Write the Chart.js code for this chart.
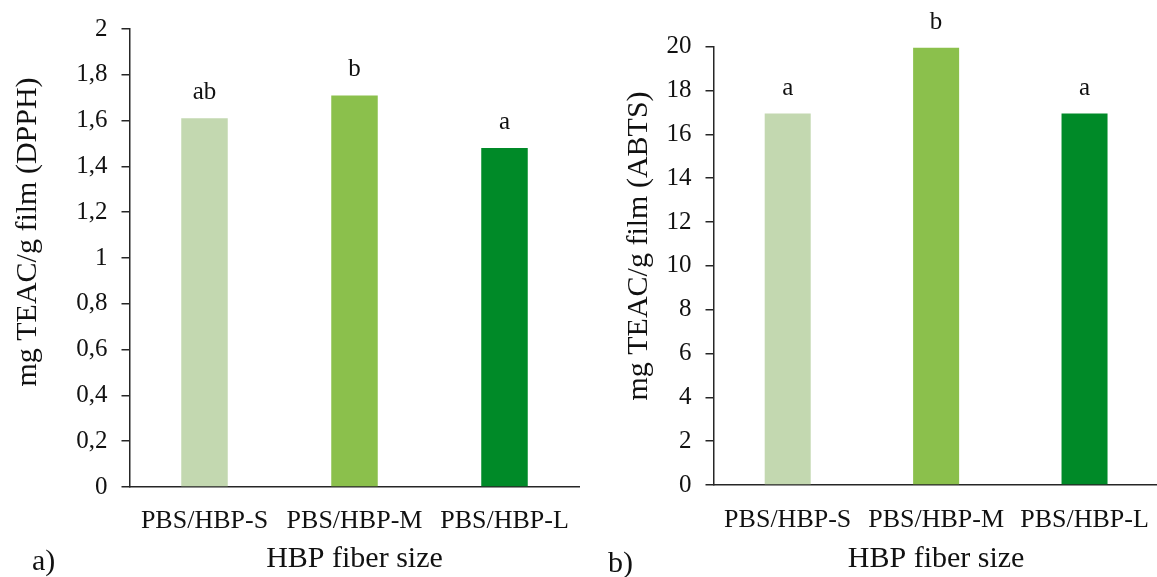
<!DOCTYPE html>
<html>
<head>
<meta charset="utf-8">
<script src="https://cdn.jsdelivr.net/npm/chart.js@4.4.1/dist/chart.umd.min.js"></script>
<style>
  html, body { margin: 0; padding: 0; background: #ffffff; overflow: hidden; width: 1157px; height: 577px; }
  #wrap { position: relative; width: 1157px; height: 577px; overflow: hidden; }
  canvas { position: absolute; top: 0; }
  #cA { left: 0px; }
  #cB { left: 580px; }
</style>
</head>
<body>
<div id="wrap">
  <canvas id="cA" width="590" height="577"></canvas>
  <canvas id="cB" width="590" height="577"></canvas>
</div>
<script>
// ---- data ----
const categories = ['PBS/HBP-S', 'PBS/HBP-M', 'PBS/HBP-L'];
const dpphValues = [1.61, 1.71, 1.48];
const abtsValues = [16.95, 19.95, 16.95];
const dpphLetters = ['ab', 'b', 'a'];
const abtsLetters = ['a', 'b', 'a'];
const barColors = ['#C3D8B0', '#8BC04C', '#008A28'];
const dpphTitle = 'mg TEAC/g film (DPPH)';
const abtsTitle = 'mg TEAC/g film (ABTS)';
const xTitle = 'HBP fiber size';
const panelLabels = ['a)', 'b)'];

const FONT = '"Liberation Serif", "Times New Roman", serif';
const AXIS = '#262626';

const fmtComma = v => String(Number(v.toFixed(1))).replace('.', ',');

const annot = {
  id: 'annot',
  afterDatasetsDraw(chart, args, opts) {
    const ctx = chart.ctx;
    const meta = chart.getDatasetMeta(0);
    ctx.save();
    ctx.fillStyle = '#111';
    ctx.textAlign = 'center';
    ctx.textBaseline = 'middle';
    ctx.font = '25px ' + FONT;
    meta.data.forEach((el, i) => {
      ctx.fillText(opts.letters[i], el.x, el.y - opts.letterGap);
    });
    // y title
    ctx.save();
    ctx.font = '30px ' + FONT;
    ctx.translate(opts.yTitleX, opts.yTitleY);
    ctx.rotate(-Math.PI / 2);
    ctx.fillText(opts.yTitle, 0, 0);
    ctx.restore();
    // panel label
    ctx.font = '30px ' + FONT;
    ctx.textAlign = 'left';
    ctx.fillText(opts.panel, opts.panelX, opts.panelY);
    ctx.restore();
  }
};

function makeChart(id, values, letters, yMax, step, fmt, cfg) {
  return new Chart(document.getElementById(id), {
    type: 'bar',
    data: {
      labels: categories,
      datasets: [{
        data: values,
        backgroundColor: barColors,
        borderWidth: 0,
        categoryPercentage: 1,
        barPercentage: 0.31
      }]
    },
    options: {
      responsive: false,
      animation: false,
      devicePixelRatio: 1,
      layout: { padding: { top: cfg.top, right: cfg.right, left: 0, bottom: 0 } },
      plugins: {
        legend: { display: false },
        tooltip: { enabled: false },
        annot: {
          letters: letters, letterGap: cfg.letterGap,
          yTitle: cfg.yTitle, yTitleX: cfg.yTitleX, yTitleY: cfg.yTitleY,
          panel: cfg.panel, panelX: cfg.panelX, panelY: cfg.panelY
        }
      },
      scales: {
        x: {
          afterFit: s => { s.height = cfg.xHeight; },
          grid: { display: false, drawTicks: false },
          border: { display: true, color: AXIS, width: 1.5 },
          ticks: { color: '#111', font: { family: FONT, size: 26 }, padding: cfg.xTickPad, maxRotation: 0, autoSkip: false },
          title: { display: true, text: xTitle, color: '#111', font: { family: FONT, size: 30 }, padding: { top: 0, bottom: cfg.xTitlePad } }
        },
        y: {
          min: 0, max: yMax,
          afterFit: s => { s.width = cfg.yWidth; },
          grid: { display: true, drawOnChartArea: false, drawTicks: true, tickLength: 8, color: AXIS, lineWidth: 1.5 },
          border: { display: true, color: AXIS, width: 1.5 },
          ticks: { stepSize: step, color: '#111', font: { family: FONT, size: 25 }, padding: 14, callback: fmt }
        }
      }
    },
    plugins: [annot]
  });
}

makeChart('cA', dpphValues, dpphLetters, 2, 0.2, v => fmtComma(v), {
  top: 28.5, right: 10.5, yWidth: 129.5, xHeight: 90, xTickPad: 19, xTitlePad: 0,
  letterGap: 26, yTitle: dpphTitle, yTitleX: 28, yTitleY: 232,
  panel: panelLabels[0], panelX: 32, panelY: 562
});
makeChart('cB', abtsValues, abtsLetters, 20, 2, v => String(v), {
  top: 46.7, right: 7, yWidth: 133.5, xHeight: 92, xTickPad: 20, xTitlePad: 0,
  letterGap: 25, yTitle: abtsTitle, yTitleX: 59, yTitleY: 246,
  panel: panelLabels[1], panelX: 28, panelY: 564
});
</script>
</body>
</html>
